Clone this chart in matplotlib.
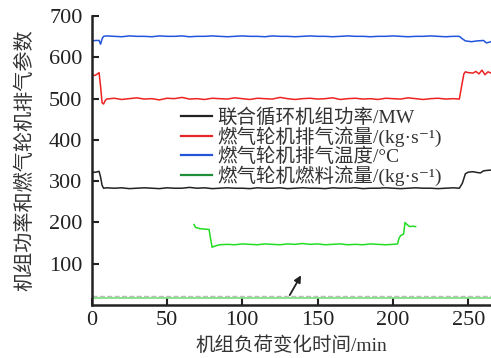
import numpy as np
import matplotlib.pyplot as plt
from matplotlib.lines import Line2D

plt.rcParams['font.family'] = ['Liberation Serif', 'Noto Sans CJK SC', 'DejaVu Serif']

# combined-cycle unit power (MW)
power_t = [0, 3, 5, 6, 7, 8, 10, 15, 20, 25, 30, 35, 40, 45, 50, 55, 60, 65, 70, 75,
           80, 85, 90, 95, 100, 105, 110, 115, 120, 125, 130, 135, 140, 145, 150, 155,
           160, 165, 170, 175, 180, 185, 190, 195, 200, 205, 210, 215, 220, 225, 230,
           235, 240, 244, 246, 248, 250, 253, 256, 258, 260, 262, 265]
power_v = [321, 322, 324, 310, 290, 283, 284, 283, 284, 282, 283, 284, 283, 282, 284,
           283, 283, 285, 283, 284, 282, 283, 284, 283, 283, 282, 284, 283, 283, 284,
           282, 283, 284, 283, 283, 282, 284, 283, 283, 284, 282, 283, 283, 284, 283,
           282, 283, 284, 283, 283, 282, 283, 284, 283, 295, 318, 322, 323, 321, 320,
           325, 326, 327]

# gas turbine exhaust flow (kg/s)
exh_flow_t = [0, 2, 4, 5, 6, 7, 8, 9, 10, 15, 20, 25, 30, 35, 40, 45, 50, 55, 60, 65,
              70, 75, 80, 85, 90, 95, 100, 105, 110, 115, 120, 125, 130, 135, 140, 145,
              150, 155, 160, 165, 170, 175, 180, 185, 190, 195, 200, 205, 210, 215, 220,
              225, 230, 235, 240, 244, 245, 247, 248, 250, 253, 255, 257, 259, 261, 263,
              265]
exh_flow_v = [558, 556, 560, 563, 530, 490, 487, 495, 499, 501, 498, 500, 502, 499,
              500, 497, 501, 500, 503, 499, 500, 498, 501, 500, 499, 502, 500, 498, 501,
              500, 499, 503, 500, 498, 500, 501, 499, 500, 502, 498, 500, 501, 499, 500,
              498, 501, 500, 499, 502, 500, 498, 500, 501, 499, 500, 499, 520, 560, 565,
              563, 562, 566, 560, 569, 558, 565, 562]

# gas turbine exhaust temperature (°C)
exh_temp_t = [0, 3, 5, 6, 7, 8, 10, 15, 20, 25, 30, 35, 40, 45, 50, 55, 60, 65, 70, 75,
              80, 85, 90, 95, 100, 105, 110, 115, 120, 125, 130, 135, 140, 145, 150, 155,
              160, 165, 170, 175, 180, 185, 190, 195, 200, 205, 210, 215, 220, 225, 230,
              235, 240, 244, 246, 248, 252, 256, 260, 262, 265]
exh_temp_v = [640, 641, 641, 632, 645, 651, 652, 651, 650, 652, 651, 651, 650, 652, 651,
              651, 652, 650, 651, 651, 652, 651, 650, 651, 652, 651, 651, 650, 652, 651,
              651, 650, 651, 652, 651, 651, 650, 651, 652, 651, 651, 650, 651, 651, 652,
              651, 650, 651, 651, 652, 651, 650, 651, 651, 645, 640, 638, 640, 641, 635,
              638]

# gas turbine fuel flow, scaled trace
fuel_t = [68, 69, 72, 75, 78, 79, 80, 82, 85, 90, 95, 100, 105, 110, 115, 120, 125,
          130, 135, 140, 145, 150, 155, 160, 165, 170, 175, 180, 185, 190, 195, 200,
          203, 204, 205, 207, 208, 209, 211, 213, 215]
fuel_v = [195, 188, 185, 184, 183, 160, 140, 143, 146, 147, 146, 148, 147, 146, 148,
          147, 146, 148, 147, 149, 147, 148, 146, 147, 148, 146, 147, 146, 148, 147,
          146, 147, 148, 162, 168, 172, 200, 196, 190, 191, 190]

# fuel flow near the bottom and its reference level
fuel_low_t = [0, 265]
fuel_low_v = [17, 17]
ref_level_v = [23, 23]

legend_labels = ['联合循环机组功率/MW', '燃气轮机排气流量/(kg·s⁻¹)',
                 '燃气轮机排气温度/°C', '燃气轮机燃料流量/(kg·s⁻¹)']
legend_colors = ['#222222', '#e8262a', '#2255d8', '#1f8f3a']

fig = plt.figure(figsize=(4.91, 3.58), dpi=100)
ax = fig.add_axes([0.1864, 0.148, 0.8136, 0.807])

ax.plot(power_t, power_v, color='#222222', lw=1.1)
ax.plot(exh_flow_t, exh_flow_v, color='#ee2222', lw=1.1)
ax.plot(exh_temp_t, exh_temp_v, color='#2255dd', lw=1.1)
ax.plot(fuel_t, fuel_v, color='#22dd22', lw=1.1)
ax.plot(fuel_low_t, ref_level_v, color='#bbbbbb', lw=1.0, ls='--')
ax.plot(fuel_low_t, fuel_low_v, color='#77dd77', lw=1.2)

# arrow pointing at the low fuel-flow trace
ax.annotate('', xy=(139, 72), xytext=(131.5, 24),
            arrowprops=dict(arrowstyle='-|>', color='#222222', lw=1.3,
                            mutation_scale=10, shrinkA=0, shrinkB=0))

ax.set_xlim(0, 265)
ax.set_ylim(0, 700)
ax.set_xticks([0, 50, 100, 150, 200, 250])
ax.set_yticks([100, 200, 300, 400, 500, 600, 700])
ax.tick_params(direction='in', length=5, width=1.5, labelsize=16, colors='#222222')
ax.tick_params(axis='y', pad=6.5)
ax.tick_params(axis='x', pad=4)
for s in ['top', 'right']:
    ax.spines[s].set_visible(False)
for s in ['left', 'bottom']:
    ax.spines[s].set_linewidth(1.8)
    ax.spines[s].set_color('#222222')

ax.set_xlabel('机组负荷变化时间/min', fontsize=14, color='#333333', labelpad=5)
ax.set_ylabel('机组功率和燃气轮机排气参数', fontsize=14.5, color='#333333', labelpad=10)

handles = [Line2D([], [], color=c, lw=1.6) for c in legend_colors]
fig.legend(handles, legend_labels, loc='upper left', bbox_to_anchor=(0.368, 0.698),
           frameon=False, fontsize=14, handlelength=1.6, handletextpad=0.3,
           labelspacing=0.0, borderpad=0, borderaxespad=0, labelcolor='#333333')

fig.savefig('out.png', dpi=100)
